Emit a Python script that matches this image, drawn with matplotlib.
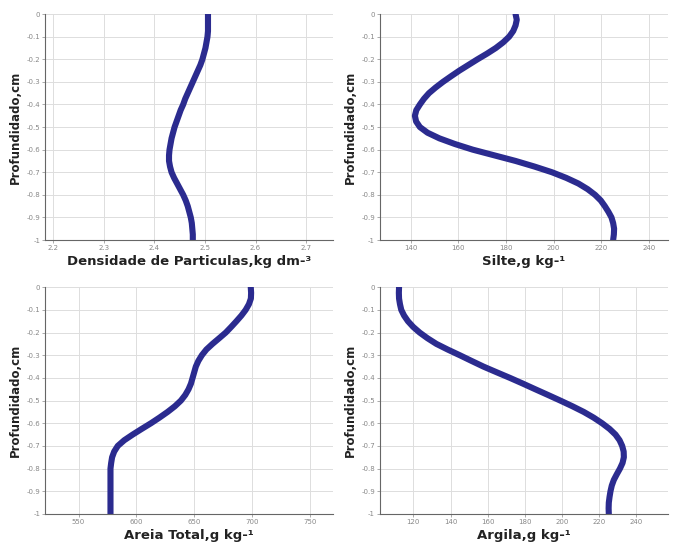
import matplotlib
matplotlib.use('Agg')
import matplotlib.pyplot as plt

# depth (cm, negative downwards)
depth = [0, -0.025, -0.05, -0.075, -0.1, -0.125, -0.15, -0.175, -0.2, -0.225,
         -0.25, -0.275, -0.3, -0.325, -0.35, -0.375, -0.4, -0.425, -0.45, -0.475,
         -0.5, -0.525, -0.55, -0.575, -0.6, -0.625, -0.65, -0.675, -0.7, -0.725,
         -0.75, -0.775, -0.8, -0.825, -0.85, -0.875, -0.9, -0.925, -0.95, -0.975, -1.0]

densidade = [2.506, 2.506, 2.506, 2.506, 2.505, 2.503, 2.501, 2.498, 2.495, 2.491,
             2.486, 2.481, 2.476, 2.471, 2.466, 2.461, 2.457, 2.452, 2.448, 2.444,
             2.440, 2.437, 2.434, 2.432, 2.430, 2.429, 2.429, 2.431, 2.434, 2.439,
             2.445, 2.451, 2.457, 2.462, 2.466, 2.469, 2.472, 2.474, 2.475, 2.476, 2.476]
silte = [184.0, 184.5, 184.0, 183.0, 181.3, 178.8, 175.7, 172.0, 168.0, 164.2,
         160.4, 156.9, 153.5, 150.4, 147.6, 145.5, 143.8, 142.3, 141.7, 142.2,
         143.8, 147.0, 152.0, 158.5, 166.0, 175.0, 184.0, 192.0, 199.3, 205.3,
         210.4, 214.3, 217.4, 219.8, 221.5, 223.0, 224.3, 225.0, 225.4, 225.3, 225.0]
areia = [698.9, 699.2, 699.0, 697.3, 694.5, 690.8, 686.5, 682.0, 677.3, 671.6,
         665.8, 660.5, 656.6, 653.6, 651.4, 650.0, 648.6, 647.2, 645.1, 642.3,
         638.5, 633.3, 627.0, 620.0, 612.6, 604.6, 596.8, 589.5, 583.9, 580.8,
         579.0, 578.2, 577.6, 577.6, 577.6, 577.6, 577.6, 577.6, 577.6, 577.6, 577.6]
argila = [112.3, 112.2, 112.3, 112.8, 113.5, 115.0, 117.1, 119.9, 123.4, 127.6,
          132.4, 138.5, 145.0, 151.3, 157.7, 164.8, 172.0, 178.9, 185.6, 192.4,
          199.1, 205.6, 211.7, 217.0, 221.6, 225.6, 228.8, 231.0, 232.4, 233.2,
          233.3, 232.6, 231.2, 229.5, 227.9, 226.8, 226.1, 225.6, 225.2, 225.1, 225.2]

yticks = [0, -0.1, -0.2, -0.3, -0.4, -0.5, -0.6, -0.7, -0.8, -0.9, -1]
ytick_labels = ['0', '-0.1', '-0.2', '-0.3', '-0.4', '-0.5', '-0.6', '-0.7', '-0.8', '-0.9', '-1']

panels = [
    # (values, xlabel, xticks, xlim, axes rect)
    (densidade, 'Densidade de Particulas,kg dm-³', [2.2, 2.3, 2.4, 2.5, 2.6, 2.7],
     (2.184, 2.753), [0.0666, 0.5596, 0.426, 0.4145]),
    (silte, 'Silte,g kg-¹', [140, 160, 180, 200, 220, 240],
     (127, 248), [0.562, 0.5596, 0.426, 0.4145]),
    (areia, 'Areia Total,g kg-¹', [550, 600, 650, 700, 750],
     (521, 770), [0.0666, 0.057, 0.426, 0.416]),
    (argila, 'Argila,g kg-¹', [120, 140, 160, 180, 200, 220, 240],
     (102, 257), [0.562, 0.057, 0.426, 0.416]),
]

fig = plt.figure(figsize=(6.76, 5.45), dpi=100)

for vals, xlabel, xticks, xlim, rect in panels:
    ax = fig.add_axes(rect)
    ax.plot(vals, depth, color='#2b2b8f', linewidth=4.4, solid_capstyle='round')
    ax.set_xlim(*xlim)
    ax.set_ylim(-1, 0)
    ax.set_xticks(xticks)
    ax.set_xticklabels([str(t) for t in xticks])
    ax.set_yticks(yticks)
    ax.set_yticklabels(ytick_labels)
    ax.tick_params(labelsize=5, colors='#888888', length=2, width=0.5, pad=1.5)
    ax.grid(True, color='#dddddd', linewidth=0.7)
    ax.spines['top'].set_visible(False)
    ax.spines['right'].set_visible(False)
    ax.spines['left'].set_color('#666666')
    ax.spines['bottom'].set_color('#666666')
    ax.set_xlabel(xlabel, fontsize=9.5, fontweight='bold', color='#222222', labelpad=3)
    ax.set_ylabel('Profundidado,cm', fontsize=8.5, fontweight='bold', color='#222222', labelpad=3)

fig.savefig('out.png', dpi=100)
